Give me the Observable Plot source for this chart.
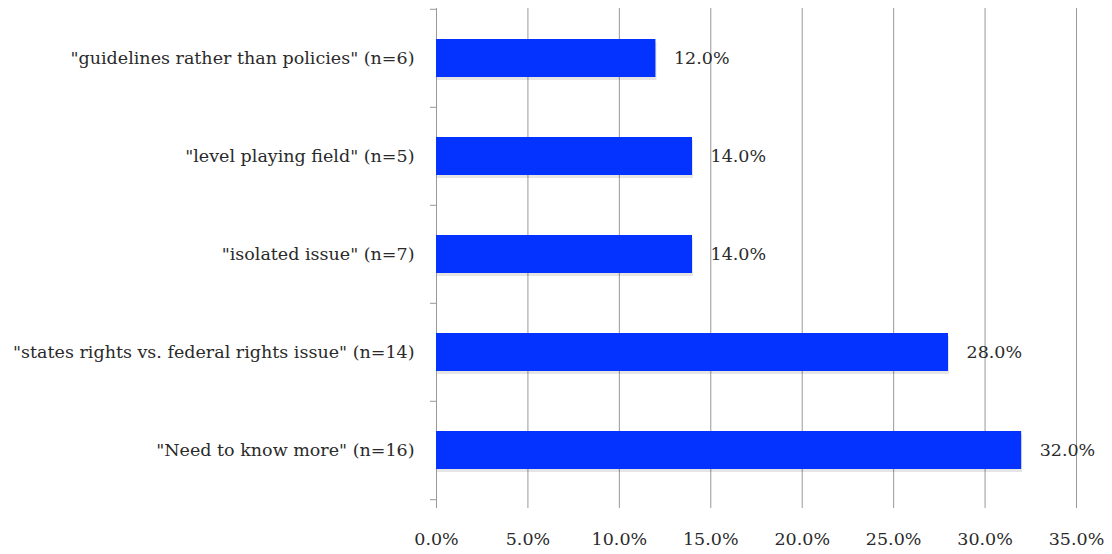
<!DOCTYPE html>
<html>
<head>
<meta charset="utf-8">
<script src="https://cdn.jsdelivr.net/npm/d3@7"></script>
<script src="https://cdn.jsdelivr.net/npm/@observablehq/plot@0.6"></script>
<style>
  html, body { margin: 0; padding: 0; background: #fff; }
  #chart svg { display: block; }
</style>
</head>
<body>
<div id="chart"></div>
<script>
const categories = [
  "\"guidelines rather than policies\" (n=6)",
  "\"level playing field\" (n=5)",
  "\"isolated issue\" (n=7)",
  "\"states rights vs. federal rights issue\" (n=14)",
  "\"Need to know more\" (n=16)"
];
const values = [12.0, 14.0, 14.0, 28.0, 32.0];
const xTicks = [0, 5, 10, 15, 20, 25, 30, 35];

const data = categories.map((c, i) => ({category: c, value: values[i]}));

const W = 1112, H = 554;
const mTop = 8, mBottom = 54, mLeft = 436, mRight = 36;
const step = (H - mTop - mBottom) / categories.length;
const fmt = d => d.toFixed(1) + "%";
const font = "'DejaVu Serif', serif";
const fs = 17.5;

const chart = Plot.plot({
  width: W,
  height: H,
  marginTop: mTop,
  marginBottom: mBottom,
  marginLeft: mLeft,
  marginRight: mRight,
  style: {fontFamily: font, fontSize: fs + "px", color: "#2a2a2a", background: "#fff"},
  x: {domain: [0, 35], ticks: xTicks, tickFormat: fmt, label: null},
  y: {domain: categories, paddingInner: 0.61, paddingOuter: 0.305, label: null},
  marks: [
    Plot.gridX(xTicks, {stroke: "#999", strokeOpacity: 1, strokeWidth: 1}),
    Plot.axisX({ticks: xTicks, tickFormat: fmt, tickSize: 8, tickPadding: 24, stroke: "#999", fill: "#2a2a2a", fontSize: fs, label: null}),
    Plot.axisY({tickSize: 0, tickPadding: 22, fill: "#2a2a2a", fontSize: fs, label: null}),
    Plot.ruleX([0], {stroke: "#999"}),
    Plot.ruleY(categories, {y: d => d, x1: 0, x2: 0, dy: -step / 2, stroke: "#999", insetLeft: -6}),
    Plot.ruleY([categories[categories.length - 1]], {y: d => d, x1: 0, x2: 0, dy: step / 2, stroke: "#999", insetLeft: -6}),
    Plot.barX(data, {x: "value", y: "category", fill: "#000", fillOpacity: 0.1, dx: 1, dy: 3}),
    Plot.barX(data, {x: "value", y: "category", fill: "#0433ff"}),
    Plot.text(data, {x: "value", y: "category", text: d => fmt(d.value), textAnchor: "start", dx: 18, fill: "#2a2a2a", fontSize: fs})
  ]
});
document.getElementById("chart").appendChild(chart);
</script>
</body>
</html>
